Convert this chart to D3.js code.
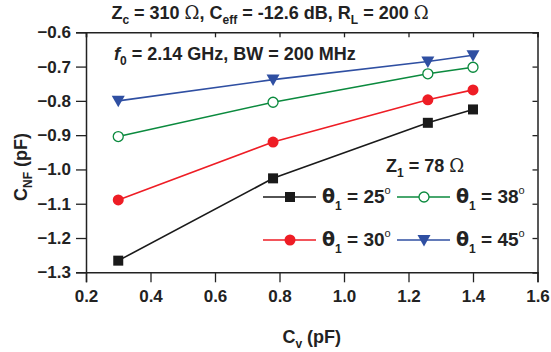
<!DOCTYPE html>
<html>
<head>
<meta charset="utf-8">
<script src="https://cdn.jsdelivr.net/npm/d3@7"></script>
<style>
  body { margin: 0; background: #fff; }
  text { font-family: "Liberation Sans", Arial, sans-serif; font-weight: bold; }
</style>
</head>
<body>
<script>
// SVG Size
var width = 551,
    height = 352;

// Data
var cvValues = [0.3, 0.78, 1.26, 1.4];
var theta25 = [-1.266, -1.026, -0.864, -0.825];
var theta30 = [-1.089, -0.920, -0.797, -0.768];
var theta38 = [-0.904, -0.804, -0.721, -0.702];
var theta45 = [-0.800, -0.738, -0.685, -0.667];
var xTicks = [0.2, 0.4, 0.6, 0.8, 1.0, 1.2, 1.4, 1.6];
var yTicks = [-0.6, -0.7, -0.8, -0.9, -1.0, -1.1, -1.2, -1.3];

var series = [
  { name: "25", values: theta25, color: "#1a1a1a", marker: "square" },
  { name: "30", values: theta30, color: "#ee1d25", marker: "circle" },
  { name: "38", values: theta38, color: "#0b8a3e", marker: "open" },
  { name: "45", values: theta45, color: "#2f4fa2", marker: "triangle" }
];

var svg = d3.select("body").append("svg")
  .attr("width", width)
  .attr("height", height);

// plot box
var plotLeft = 86, plotRight = 537.5, plotTop = 32.3, plotBottom = 272.3;

var x = d3.scaleLinear().domain([0.2, 1.6]).range([plotLeft, plotRight]);
var y = d3.scaleLinear().domain([-0.6, -1.3]).range([plotTop, plotBottom]);

var xMinor = d3.range(0.2, 1.6001, 0.1);
var yMinor = d3.range(-0.6, -1.3001, -0.05);

// Bottom axis (outward ticks)
var gx = svg.append("g").attr("transform", "translate(0," + plotBottom + ")");
gx.call(d3.axisBottom(x).tickValues(xMinor).tickSize(5).tickFormat(""));
gx.call(d3.axisBottom(x).tickValues(xTicks).tickSize(10).tickPadding(8)
  .tickFormat(d3.format(".1f")));

// Left axis (outward ticks)
var gy = svg.append("g").attr("transform", "translate(" + plotLeft + ",0)");
gy.call(d3.axisLeft(y).tickValues(yMinor).tickSize(5).tickFormat(""));
gy.call(d3.axisLeft(y).tickValues(yTicks).tickSize(10).tickPadding(5)
  .tickFormat(d3.format(".1f")));

// Mirror axes (inward ticks)
var gt = svg.append("g").attr("transform", "translate(0," + plotTop + ")");
gt.call(d3.axisBottom(x).tickValues(xMinor).tickSize(3).tickFormat(""));
gt.call(d3.axisBottom(x).tickValues(xTicks).tickSize(5).tickFormat(""));
var gr = svg.append("g").attr("transform", "translate(" + plotRight + ",0)");
gr.call(d3.axisLeft(y).tickValues(yMinor).tickSize(3).tickFormat(""));
gr.call(d3.axisLeft(y).tickValues(yTicks).tickSize(5).tickFormat(""));

svg.selectAll(".domain").attr("stroke", "#222").attr("stroke-width", 1.5);
svg.selectAll(".tick line").attr("stroke", "#222").attr("stroke-width", 1.3);
svg.selectAll(".tick text").attr("fill", "#222")
  .style("font-size", "17px").style("font-family", "Liberation Sans, Arial, sans-serif")
  .style("font-weight", "bold");

// Lines and markers
var line = d3.line()
  .x(function(d, i){ return x(cvValues[i]); })
  .y(function(d){ return y(d); });

function drawMarker(g, type, color, cx, cy) {
  if (type === "square") {
    g.append("rect").attr("x", cx - 5).attr("y", cy - 5)
      .attr("width", 10).attr("height", 10).attr("fill", color);
  } else if (type === "circle") {
    g.append("circle").attr("cx", cx).attr("cy", cy).attr("r", 5.5).attr("fill", color);
  } else if (type === "open") {
    g.append("circle").attr("cx", cx).attr("cy", cy).attr("r", 5)
      .attr("fill", "#fff").attr("stroke", color).attr("stroke-width", 1.3);
  } else {
    g.append("path")
      .attr("d", "M" + (cx - 6.5) + "," + (cy - 5) + "L" + (cx + 6.5) + "," + (cy - 5) +
                 "L" + cx + "," + (cy + 6.5) + "Z")
      .attr("fill", color);
  }
}

series.forEach(function(s){
  var g = svg.append("g");
  g.append("path").datum(s.values)
    .attr("d", line)
    .attr("fill", "none")
    .attr("stroke", s.color)
    .attr("stroke-width", 1.6);
  s.values.forEach(function(v, i){
    drawMarker(g, s.marker, s.color, x(cvValues[i]), y(v));
  });
});

// Legend
svg.append("text").attr("x", 386).attr("y", 172).style("font-size", "18px").attr("fill", "#222")
  .call(function(t){
    t.append("tspan").text("Z");
    t.append("tspan").attr("dy", 5).style("font-size", "12px").text("1");
    t.append("tspan").attr("dy", -5).text(" = 78 ");
    t.append("tspan").style("font-weight", "normal").style("font-family", "DejaVu Serif, serif").text("\u03A9");
  });

var legendPos = [
  { s: series[0], lx: 263, ty: 197 },
  { s: series[2], lx: 397, ty: 197 },
  { s: series[1], lx: 263, ty: 240 },
  { s: series[3], lx: 397, ty: 240 }
];

legendPos.forEach(function(p){
  var g = svg.append("g");
  g.append("line").attr("x1", p.lx).attr("x2", p.lx + 53)
    .attr("y1", p.ty).attr("y2", p.ty)
    .attr("stroke", p.s.color).attr("stroke-width", 1.6);
  drawMarker(g, p.s.marker, p.s.color, p.lx + 27, p.ty);
  var t = g.append("text").attr("x", p.lx + 59).attr("y", p.ty + 6)
    .style("font-size", "19px").attr("fill", "#222");
  t.append("tspan").style("font-family", "DejaVu Sans, sans-serif").text("\u03B8");
  t.append("tspan").attr("dy", 7).style("font-size", "12px").text("1");
  t.append("tspan").attr("dy", -7).text(" = " + p.s.name);
  t.append("tspan").attr("dy", -9).style("font-size", "11px").style("font-weight", "normal").text("o");
});

// Title
svg.append("text").attr("x", 270).attr("y", 19).attr("text-anchor", "middle")
  .style("font-size", "18px").attr("fill", "#222")
  .call(function(t){
    t.append("tspan").text("Z");
    t.append("tspan").attr("dy", 5).style("font-size", "12px").text("c");
    t.append("tspan").attr("dy", -5).text(" = 310 ");
    t.append("tspan").style("font-weight", "normal").style("font-family", "DejaVu Serif, serif").text("\u03A9");
    t.append("tspan").text(",  C");
    t.append("tspan").attr("dy", 5).style("font-size", "12px").text("eff");
    t.append("tspan").attr("dy", -5).text(" = -12.6 dB,  R");
    t.append("tspan").attr("dy", 5).style("font-size", "12px").text("L");
    t.append("tspan").attr("dy", -5).text(" = 200 ");
    t.append("tspan").style("font-weight", "normal").style("font-family", "DejaVu Serif, serif").text("\u03A9");
  });

// Frequency annotation
svg.append("text").attr("x", 114).attr("y", 60)
  .style("font-size", "18px").attr("fill", "#222")
  .call(function(t){
    t.append("tspan").style("font-style", "italic").text("f");
    t.append("tspan").attr("dy", 5).style("font-size", "12px").text("0");
    t.append("tspan").attr("dy", -5).text(" = 2.14 GHz, BW = 200 MHz");
  });

// Axis labels
svg.append("text").attr("x", 311.75).attr("y", 343).attr("text-anchor", "middle")
  .style("font-size", "18px").attr("fill", "#222")
  .call(function(t){
    t.append("tspan").text("C");
    t.append("tspan").attr("dy", 5).style("font-size", "12px").text("v");
    t.append("tspan").attr("dy", -5).text(" (pF)");
  });

svg.append("text").attr("transform", "translate(27,167) rotate(-90)")
  .attr("text-anchor", "middle").style("font-size", "18px").attr("fill", "#222")
  .call(function(t){
    t.append("tspan").text("C");
    t.append("tspan").attr("dy", 5).style("font-size", "12px").text("NF");
    t.append("tspan").attr("dy", -5).text(" (pF)");
  });
</script>
</body>
</html>
